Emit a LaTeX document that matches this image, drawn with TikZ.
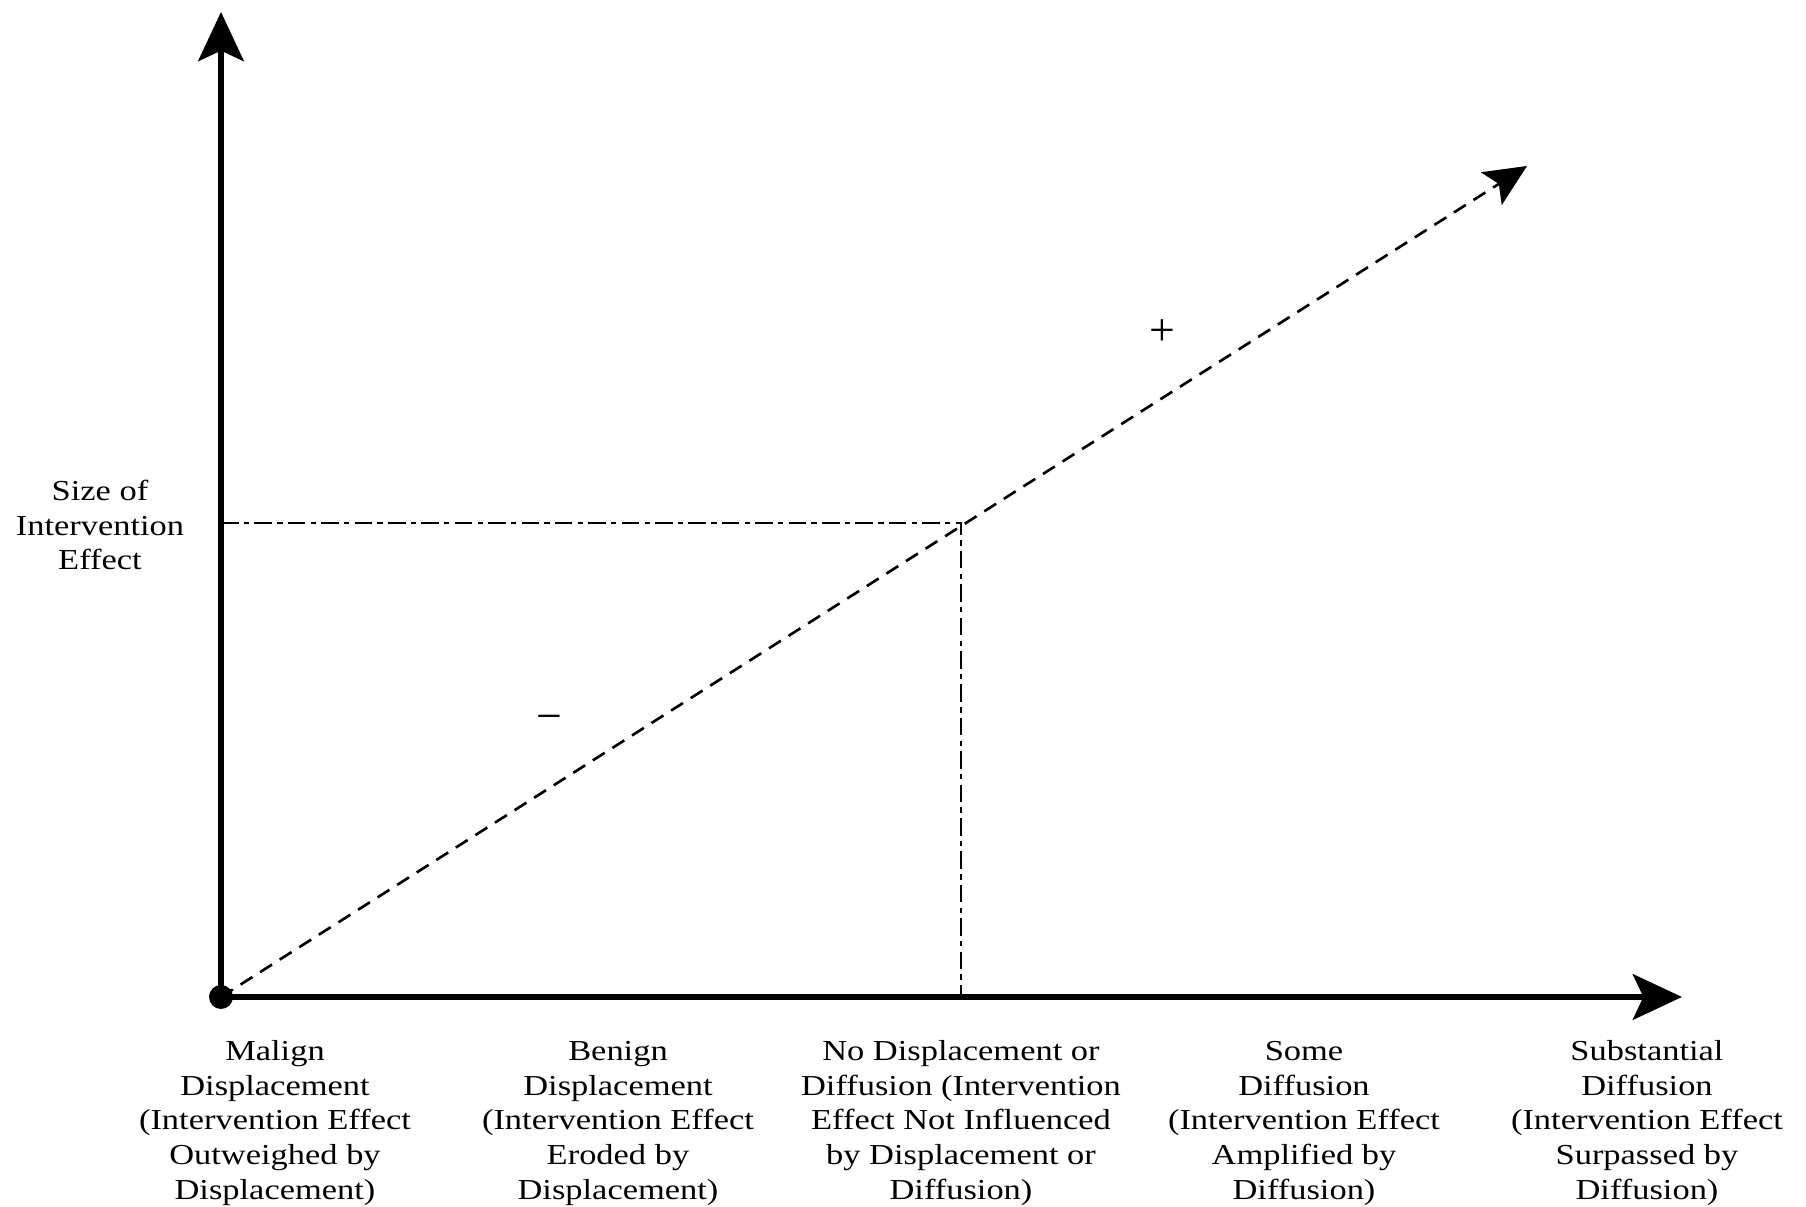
\documentclass[tikz,border=0pt]{standalone}
\usepackage{fontspec}
\setmainfont{Liberation Serif}
\usepackage{graphicx}
\usetikzlibrary{arrows.meta}
\tikzset{
  ax/.style={line width=1.5pt,-{Stealth[length=14pt,width=13pt,inset=3pt]}},
  trend/.style={line width=0.75pt,dash pattern=on 4pt off 2.6pt,-{Stealth[length=12pt,width=11pt,inset=2.5pt]}},
  guide/.style={line width=0.6pt,dash pattern=on 5pt off 1.5pt on 1.5pt off 1.5pt},
  lbl/.style={inner sep=0pt,font=\fontsize{9.8}{11.7}\selectfont},
  sgn/.style={inner sep=0pt,font=\fontsize{13}{13}\selectfont}
}
\newcommand{\squash}[1]{\scalebox{1}[0.84]{\begin{tabular}{@{}c@{}}#1\end{tabular}}}

\begin{document}
\begin{tikzpicture}
\useasboundingbox (-2.21,-2.10) rectangle (15.85,9.97);
\coordinate (O) at (0,0);
\coordinate (ytip) at (0,9.85);
\coordinate (xtip) at (14.61,0);
\coordinate (dtip) at (13.06,8.31);
\coordinate (P) at (7.40,4.74);
% guides to the no-change point
\draw[guide] (O |- P) -- (P) -- (P |- O);
\draw[trend] (O) -- (dtip);
\draw[ax] (O) -- (ytip);
\draw[ax] (O) -- (xtip);
\fill (O) circle (0.12);
\node[lbl] (ylab) at (-1.21,4.685) {\squash{Size of\\Intervention\\Effect}};
\node[sgn] (plus) at (9.41,6.645) {+};
\node[sgn] (minus) at (3.28,2.74) {−};
% categories along the x axis
\node[lbl,anchor=north] (c1) at (0.54,-0.39) {\squash{Malign\\Displacement\\(Intervention Effect\\Outweighed by\\Displacement)}};
\node[lbl,anchor=north] (c2) at (3.97,-0.39) {\squash{Benign\\Displacement\\(Intervention Effect\\Eroded by\\Displacement)}};
\node[lbl,anchor=north] (c3) at (7.40,-0.39) {\squash{No Displacement or\\Diffusion (Intervention\\Effect Not Influenced\\by Displacement or\\Diffusion)}};
\node[lbl,anchor=north] (c4) at (10.83,-0.39) {\squash{Some\\Diffusion\\(Intervention Effect\\Amplified by\\Diffusion)}};
\node[lbl,anchor=north] (c5) at (14.26,-0.39) {\squash{Substantial\\Diffusion\\(Intervention Effect\\Surpassed by\\Diffusion)}};
\end{tikzpicture}
\end{document}
